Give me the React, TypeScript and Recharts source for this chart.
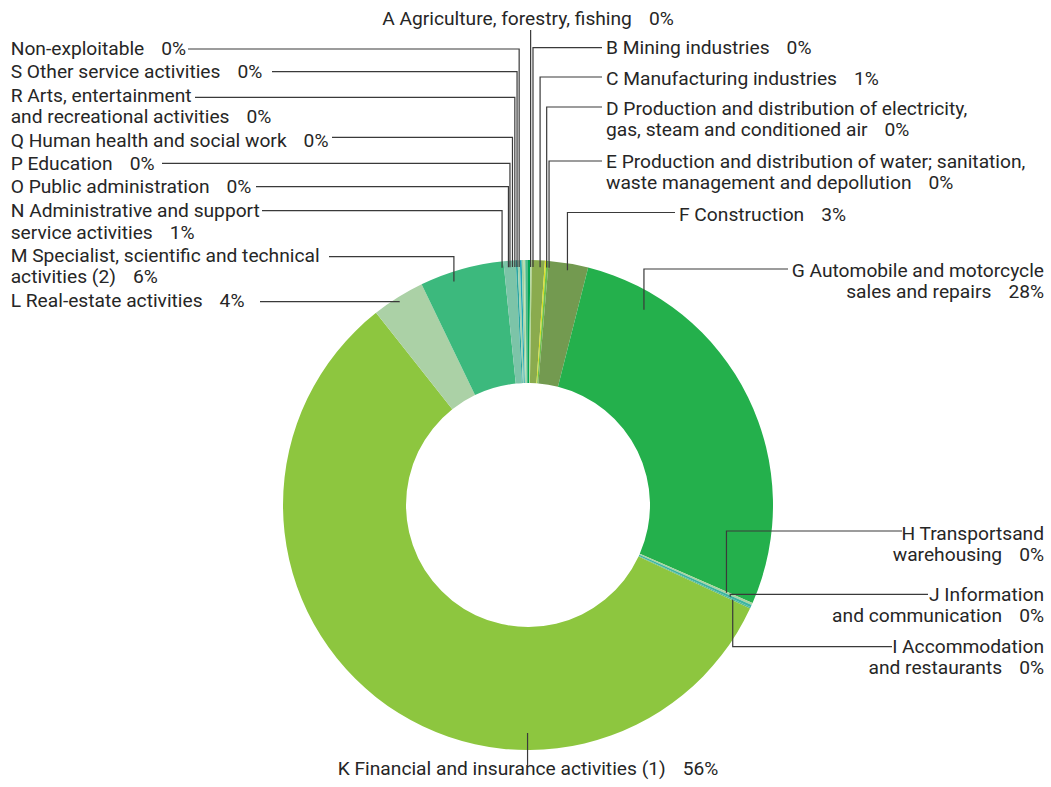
import { PieChart, Pie, Cell } from 'recharts'

// sectors, clockwise from 12 o'clock
const CATEGORIES = [
  'A Agriculture, forestry, fishing',
  'B Mining industries',
  'C Manufacturing industries',
  'D Production and distribution of electricity,\ngas, steam and conditioned air',
  'E Production and distribution of water; sanitation,\nwaste management and depollution',
  'F Construction',
  'G Automobile and motorcycle\nsales and repairs',
  'H Transportsand\nwarehousing',
  'J Information\nand communication',
  'I Accommodation\nand restaurants',
  'K Financial and insurance activities (1)',
  'L Real-estate activities',
  'M Specialist, scientific and technical\nactivities (2)',
  'N Administrative and support\nservice activities',
  'O Public administration',
  'P Education',
  'Q Human health and social work',
  'R Arts, entertainment\nand recreational activities',
  'S Other service activities',
  'Non-exploitable',
]

// share of the ring (%)
const SHARES = [
  0.15, 0.1, 0.85, 0.1, 0.15, 2.6, 27.6, 0.15, 0.15, 0.1,
  57.4, 3.5, 5.55, 0.8, 0.12, 0.15, 0.12, 0.13, 0.1, 0.18,
]

// printed percentages
const PCT_LABELS = [
  '0%', '0%', '1%', '0%', '0%', '3%', '28%', '0%', '0%', '0%',
  '56%', '4%', '6%', '1%', '0%', '0%', '0%', '0%', '0%', '0%',
]

const COLORS = [
  '#00a651', '#b5d99c', '#8aab4e', '#d7df23', '#6cbf4b', '#739a50', '#24b04c', '#a8d5a0', '#3cb4a0', '#4db89a',
  '#8dc63f', '#abd1a6', '#3cb97d', '#7cc4a8', '#2aa5a0', '#a0d4b0', '#1ea5b5', '#9dd0a0', '#b9ddb0', '#4dbb8a',
]

type Anchor = 'start' | 'middle' | 'end'
type LabelPos = {
  tx: number
  ty: number
  anchor: Anchor
  lineY: number
  lineX: number | null
  f: number // where along the slice the leader starts
  r: number
  dx?: number
}

const LABEL_POS: LabelPos[] = [
  { tx: 528, ty: 25, anchor: 'middle', lineY: 30, lineX: null, f: 0.5, r: 238, dx: 1.5 },
  { tx: 606, ty: 54, anchor: 'start', lineY: 47.7, lineX: 602, f: 0.5, r: 238, dx: 2 },
  { tx: 606, ty: 85, anchor: 'start', lineY: 77, lineX: 602, f: 0.5, r: 238, dx: 2 },
  { tx: 606, ty: 115, anchor: 'start', lineY: 107, lineX: 602, f: 0.5, r: 238, dx: 1.5 },
  { tx: 606, ty: 168, anchor: 'start', lineY: 161, lineX: 602, f: 0.5, r: 238, dx: 2 },
  { tx: 679, ty: 220.5, anchor: 'start', lineY: 212.5, lineX: 675, f: 0.5, r: 238 },
  { tx: 1044, ty: 277, anchor: 'end', lineY: 269, lineX: 788, f: 0.166, r: 227 },
  { tx: 1044, ty: 540, anchor: 'end', lineY: 531, lineX: 902, f: 0.5, r: 217 },
  { tx: 1044, ty: 600.5, anchor: 'end', lineY: 594.3, lineX: 928, f: 0.5, r: 222 },
  { tx: 1044, ty: 652.5, anchor: 'end', lineY: 646.7, lineX: 892, f: 0.5, r: 225.6 },
  { tx: 528, ty: 775, anchor: 'middle', lineY: 765, lineX: null, f: 0.315, r: 228 },
  { tx: 10.7, ty: 306.7, anchor: 'start', lineY: 301.7, lineX: 260, f: 0.48, r: 241 },
  { tx: 10.7, ty: 261.7, anchor: 'start', lineY: 256.7, lineX: 329, f: 0.37, r: 235.4 },
  { tx: 10.7, ty: 217.3, anchor: 'start', lineY: 210.7, lineX: 262, f: 0.5, r: 238, dx: -8 },
  { tx: 10.7, ty: 193.3, anchor: 'start', lineY: 186.7, lineX: 256, f: 0.5, r: 238, dx: -8.5 },
  { tx: 10.7, ty: 170, anchor: 'start', lineY: 163.3, lineX: 162, f: 0.5, r: 238, dx: -9 },
  { tx: 10.7, ty: 146.7, anchor: 'start', lineY: 137.3, lineX: 332, f: 0.5, r: 238, dx: -8.5 },
  { tx: 10.7, ty: 101.7, anchor: 'start', lineY: 97.3, lineX: 195, f: 0.5, r: 238, dx: -8 },
  { tx: 10.7, ty: 77.7, anchor: 'start', lineY: 71.7, lineX: 272, f: 0.5, r: 238, dx: -7.5 },
  { tx: 10.7, ty: 55, anchor: 'start', lineY: 49, lineX: 188, f: 0.5, r: 238, dx: -7.5 },
]

const data = CATEGORIES.map((name, i) => ({ name, value: SHARES[i] }))

const FONT = 'Roboto, "Liberation Sans", sans-serif'
const LINE_H = 21.3
const RAD = Math.PI / 180

function renderLabel(props: any) {
  const { cx, cy, startAngle, endAngle, midAngle, index } = props
  const pos = LABEL_POS[index]
  if (!pos) return null
  const ang =
    typeof startAngle === 'number' && typeof endAngle === 'number'
      ? startAngle + (endAngle - startAngle) * pos.f
      : midAngle
  const ax = cx + pos.r * Math.cos(-ang * RAD) + (pos.dx ?? 0)
  const ay = cy + pos.r * Math.sin(-ang * RAD)
  const pts =
    pos.lineX == null
      ? `${ax},${ay} ${ax},${pos.lineY}`
      : `${ax},${ay} ${ax},${pos.lineY} ${pos.lineX},${pos.lineY}`
  const lines = CATEGORIES[index].split('\n')
  return (
    <g key={`lbl-${index}`}>
      <polyline points={pts} fill="none" stroke="#3a3a3a" strokeWidth={1.2} />
      <text
        x={pos.tx}
        y={pos.ty}
        textAnchor={pos.anchor}
        fill="#262626"
        fontSize={19.2}
        fontFamily={FONT}
      >
        {lines.map((ln, i) => (
          <tspan key={i} x={pos.tx} dy={i === 0 ? 0 : LINE_H}>
            {ln}
            {i === lines.length - 1 && <tspan dx={17}>{PCT_LABELS[index]}</tspan>}
          </tspan>
        ))}
      </text>
    </g>
  )
}

export default function App() {
  return (
    <div style={{ position: 'absolute', left: 0, top: 0, width: 1051, height: 787, background: '#fff' }}>
      <PieChart width={1051} height={787} margin={{ top: 0, right: 0, bottom: 0, left: 0 }}>
        <Pie
          data={data}
          dataKey="value"
          nameKey="name"
          cx={528}
          cy={505}
          innerRadius={122}
          outerRadius={245}
          startAngle={90}
          endAngle={-270}
          stroke="none"
          label={renderLabel}
          labelLine={false}
          isAnimationActive={false}
        >
          {data.map((d, i) => (
            <Cell key={d.name} fill={COLORS[i]} />
          ))}
        </Pie>
      </PieChart>
    </div>
  )
}
